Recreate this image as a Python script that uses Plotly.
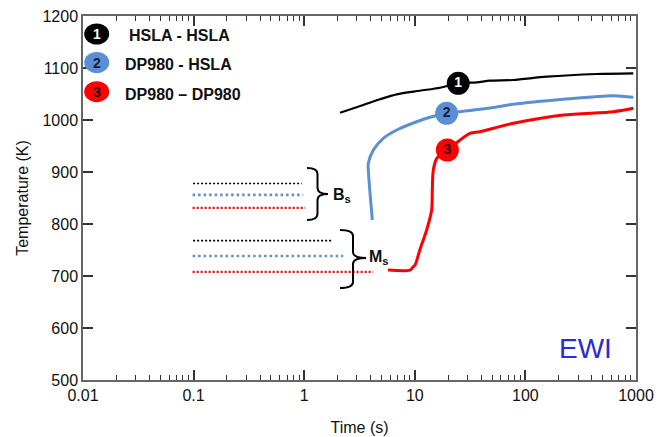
import plotly.graph_objects as go

# ---- data ----
x_tickvals = [0.01, 0.1, 1, 10, 100, 1000]
x_ticktext = ["0.01", "0.1", "1", "10", "100", "1000"]
x_minor_digits = [2, 3, 4, 5, 6, 7, 8, 9]
y_tickvals = [500, 600, 700, 800, 900, 1000, 1100, 1200]

hsla_t = [2.11, 3.42, 4.84, 6.86, 11.1, 16.9, 24.7, 36.3, 47.9, 77.8, 156, 442, 946]
hsla_T = [1014.0, 1028.8, 1039.8, 1049.4, 1056.3, 1062.1, 1070.6, 1072.5, 1075.6, 1076.9, 1083.3, 1088.5, 1089.8]

dp_hsla_t = [4.13, 3.94, 3.80, 3.80, 4.22, 5.19, 6.86, 10.4, 13.7, 19.4, 31.5, 47.9, 77.8, 220, 624, 946]
dp_hsla_T = [807.7, 859.0, 903.8, 916.7, 942.3, 964.8, 980.8, 996.7, 1005.2, 1012.9, 1018.3, 1023.0, 1030.2, 1039.8, 1046.7, 1043.7]

dp_dp_t = [5.73, 9.06, 9.64, 10.05, 11.1, 12.8, 14.2, 14.4, 14.7, 15.8, 19.7, 31.5, 38.9, 77.8, 220, 624, 946]
dp_dp_T = [711.5, 711.5, 717.3, 721.2, 750.0, 788.5, 826.9, 865.4, 903.8, 926.3, 942.3, 974.4, 977.5, 993.6, 1009.6, 1016.0, 1022.5]

# Bs / Ms levels (dotted)
bs_T = [878, 856, 831]
bs_t_end = [0.95, 0.98, 1.02]
ms_T = [768, 738.5, 708]
ms_t_end = [1.79, 2.25, 4.2]
level_t_start = [0.099, 0.098, 0.098]

# numbered labels on curves
label_t = [24.7, 19.4, 19.7]
label_T = [1070.6, 1012.9, 942.3]
label_num = ["1", "2", "3"]

names = ["HSLA - HSLA", "DP980 - HSLA", "DP980 \u2013 DP980"]
colors = ["#000000", "#5b8fd3", "#ff0000"]
num_colors = ["#ffffff", "#1a1a40", "#1a0000"]

FONT = "Liberation Sans, Arial, sans-serif"

fig = go.Figure()

# main curves
curves = [(hsla_t, hsla_T, 2.2), (dp_hsla_t, dp_hsla_T, 3), (dp_dp_t, dp_dp_T, 3)]
for (t, T, w), c, n in zip(curves, colors, names):
    fig.add_trace(go.Scatter(x=t, y=T, mode="lines", name=n,
                             line=dict(color=c, width=w, shape="spline", smoothing=0.8),
                             showlegend=False))

# dotted Bs / Ms lines
dash_styles = ["2px,2px", "2.5px,3px", "2px,2px"]
dot_widths = [1.6, 2.6, 2.2]
for T_list, t_end in ((bs_T, bs_t_end), (ms_T, ms_t_end)):
    for T, te, ts, c, d, w in zip(T_list, t_end, level_t_start, colors, dash_styles, dot_widths):
        fig.add_trace(go.Scatter(x=[ts, te], y=[T, T], mode="lines",
                                 line=dict(color=c, width=w, dash=d), showlegend=False))

# numbered circles on curves
fig.add_trace(go.Scatter(x=label_t, y=label_T, mode="markers+text", text=label_num,
                         textposition="middle center",
                         textfont=dict(family=FONT, size=14, color=num_colors, weight="bold"),
                         marker=dict(size=23, color=colors, line=dict(width=0)),
                         showlegend=False, cliponaxis=False))

def px2paper(px, py):
    return (px - 83) / 553.0, (380 - py) / 364.0

shapes = []
annotations = []

# legend block (top left)
leg_y = [34, 62.5, 91.7]
leg_text_x = [127, 123, 123]
leg_text_y = [35, 65, 94]
for i in range(3):
    cx, cy = px2paper(96.7, leg_y[i])
    shapes.append(dict(type="circle", xref="paper", yref="paper", xsizemode="pixel", ysizemode="pixel",
                       xanchor=cx, yanchor=cy, x0=-12.5, x1=12.5, y0=-10.5, y1=10.5,
                       fillcolor=colors[i], line=dict(width=0), layer="above"))
    annotations.append(dict(x=cx, y=cy, xref="paper", yref="paper", text="<b>%s</b>" % label_num[i],
                            showarrow=False, font=dict(family=FONT, size=14, color=num_colors[i]),
                            xanchor="center", yanchor="middle"))
    tx, ty = px2paper(leg_text_x[i], leg_text_y[i])
    annotations.append(dict(x=tx, y=ty, xref="paper", yref="paper", text="<b>%s</b>" % names[i],
                            showarrow=False, font=dict(family=FONT, size=16, color="#111111"),
                            xanchor="left", yanchor="middle"))

# braces
def brace(x0, x1, ytop, ybot, ytip):
    xm = (x0 + x1) / 2.0
    d = 6
    pts = [
        "M %f,%f" % px2paper(x0, ytop),
        "Q %f,%f %f,%f" % (px2paper(xm, ytop) + px2paper(xm, ytop + d)),
        "L %f,%f" % px2paper(xm, ytip - d),
        "Q %f,%f %f,%f" % (px2paper(xm, ytip) + px2paper(x1, ytip)),
        "Q %f,%f %f,%f" % (px2paper(xm, ytip) + px2paper(xm, ytip + d)),
        "L %f,%f" % px2paper(xm, ybot - d),
        "Q %f,%f %f,%f" % (px2paper(xm, ybot) + px2paper(x0, ybot)),
    ]
    return dict(type="path", xref="paper", yref="paper", path=" ".join(pts),
                line=dict(color="#000000", width=2), layer="above")

shapes.append(brace(307, 328, 168, 220, 194))
shapes.append(brace(340, 366, 230, 288, 258))

bx, by = px2paper(331, 195)
annotations.append(dict(x=bx, y=by, xref="paper", yref="paper", text="<b>B<sub>s</sub></b>",
                        showarrow=False, font=dict(family=FONT, size=16, color="#111111"),
                        xanchor="left", yanchor="middle"))
mx, my = px2paper(367, 257)
annotations.append(dict(x=mx, y=my, xref="paper", yref="paper", text="<b>M<sub>s</sub></b>",
                        showarrow=False, font=dict(family=FONT, size=16, color="#111111"),
                        xanchor="left", yanchor="middle"))

ex, ey = px2paper(585, 348)
annotations.append(dict(x=ex, y=ey, xref="paper", yref="paper", text="EWI",
                        showarrow=False, font=dict(family=FONT, size=28, color="#2b2bd6"),
                        xanchor="center", yanchor="middle"))

axis_common = dict(showgrid=False, zeroline=False, showline=True, linecolor="#666666", linewidth=1.5,
                   mirror="ticks", ticks="inside", ticklen=10, tickwidth=1.5, tickcolor="#333333",
                   tickfont=dict(family=FONT, size=16, color="#111111"), automargin=False)

x_minor_vals = [d * 10 ** e for e in range(-2, 3) for d in x_minor_digits]

fig.update_layout(
    width=656, height=437,
    margin=dict(l=83, r=20, t=16, b=57),
    paper_bgcolor="white", plot_bgcolor="white",
    showlegend=False,
    xaxis=dict(type="log", range=[-2, 3], tickvals=x_tickvals, ticktext=x_ticktext,
               minor=dict(ticks="inside", ticklen=5, tickwidth=1.2, tickcolor="#333333",
                          tickvals=x_minor_vals),
               title=dict(text="Time (s)", font=dict(family=FONT, size=16, color="#111111"), standoff=19),
               **axis_common),
    yaxis=dict(range=[500, 1200], tickvals=y_tickvals,
               title=dict(text="Temperature (K)", font=dict(family=FONT, size=16, color="#111111"), standoff=10),
               **axis_common),
    shapes=shapes,
    annotations=annotations,
)

fig.write_html("out.html", config={"displayModeBar": False},
               post_script="document.body.style.margin='0';document.body.style.overflow='hidden';")
